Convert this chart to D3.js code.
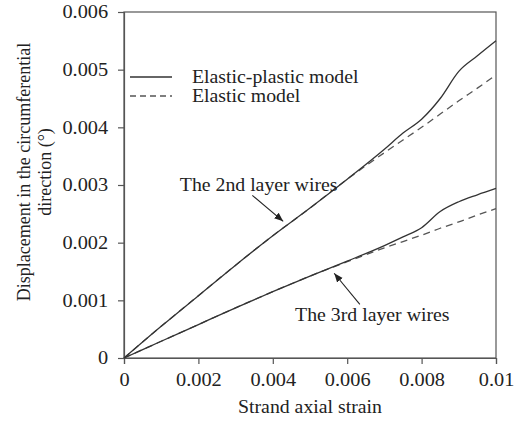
<!DOCTYPE html>
<html>
<head>
<meta charset="utf-8">
<script src="https://cdn.jsdelivr.net/npm/d3@7"></script>
<style>
  body { margin: 0; background: #fff; }
  svg { display: block; }
  text { font-family: "Liberation Serif", "Times New Roman", serif; fill: #222; }
</style>
</head>
<body>
<div class="canvas"></div>
<script>
// Data
const strainPts = [0, 0.001, 0.002, 0.003, 0.004, 0.005, 0.006, 0.007, 0.0075, 0.008, 0.0085, 0.009, 0.0095, 0.01];
const layer2Plastic = [0, 0.00055, 0.00108, 0.00161, 0.00212, 0.0026, 0.0031, 0.00362, 0.0039, 0.00414, 0.0045, 0.00497, 0.00524, 0.0055];
const layer2Elastic = [0, 0.00055, 0.00108, 0.00161, 0.00212, 0.0026, 0.0031, 0.00356, 0.00378, 0.004, 0.00423, 0.00446, 0.00468, 0.00491];
const layer3Plastic = [0, 0.00029, 0.00058, 0.00087, 0.00115, 0.00142, 0.00168, 0.00195, 0.0021, 0.00226, 0.00254, 0.00271, 0.00283, 0.00294];
const layer3Elastic = [0, 0.00029, 0.00058, 0.00087, 0.00115, 0.00142, 0.00167, 0.00191, 0.00202, 0.00213, 0.00225, 0.00236, 0.00248, 0.00259];

const xTicks = [0, 0.002, 0.004, 0.006, 0.008, 0.01];
const xTickLabels = ['0', '0.002', '0.004', '0.006', '0.008', '0.01'];
const yTicks = [0, 0.001, 0.002, 0.003, 0.004, 0.005, 0.006];
const yTickLabels = ['0', '0.001', '0.002', '0.003', '0.004', '0.005', '0.006'];

const legendLabels = ['Elastic-plastic model', 'Elastic model'];

// Dimensions
const dims = {
    svgWidth: 518,
    svgHeight: 421,
    marginLeft: 124,
    marginRight: 22,
    marginTop: 12,
    marginBottom: 63
};
dims.graphWidth = dims.svgWidth - dims.marginLeft - dims.marginRight;
dims.graphHeight = dims.svgHeight - dims.marginTop - dims.marginBottom;

const stretch = 'scale(1.1,1)';   // the source text is a bit wider than tall
const ink = '#333';

const svg = d3.select('.canvas')
    .append('svg')
    .attr('width', dims.svgWidth)
    .attr('height', dims.svgHeight);

const graph = svg.append('g')
    .attr('transform', `translate(${dims.marginLeft}, ${dims.marginTop})`);

// Scales
const x = d3.scaleLinear().domain([0, 0.01]).range([0, dims.graphWidth]);
const y = d3.scaleLinear().domain([0, 0.006]).range([dims.graphHeight, 0]);

// Frame
graph.append('rect')
    .attr('width', dims.graphWidth)
    .attr('height', dims.graphHeight)
    .attr('fill', 'none')
    .attr('stroke', '#555')
    .attr('stroke-width', 1.2);

// Axes
const xAxis = graph.append('g')
    .attr('transform', `translate(0, ${dims.graphHeight})`)
    .call(d3.axisBottom(x)
        .tickValues(xTicks)
        .tickFormat((d, i) => xTickLabels[i])
        .tickSize(6)
        .tickPadding(9));

const yAxis = graph.append('g')
    .call(d3.axisLeft(y)
        .tickValues(yTicks)
        .tickFormat((d, i) => yTickLabels[i])
        .tickSize(6)
        .tickPadding(8));

[xAxis, yAxis].forEach(ax => {
    ax.select('.domain').attr('stroke', '#555').attr('stroke-width', 1.2);
    ax.selectAll('.tick line').attr('stroke', '#555').attr('stroke-width', 1.2);
    ax.selectAll('.tick text')
        .attr('font-size', 18)
        .attr('fill', '#222')
        .attr('transform', 'scale(1.13,1)');
});

// Lines
const line = vals => d3.line()
    .x((d, i) => x(strainPts[i]))
    .y(d => y(d))
    .curve(d3.curveMonotoneX)(vals);

[layer2Elastic, layer3Elastic].forEach(vals => {
    graph.append('path')
        .attr('d', line(vals))
        .attr('fill', 'none')
        .attr('stroke', '#555')
        .attr('stroke-width', 1.3)
        .attr('stroke-dasharray', '7,5');
});

[layer2Plastic, layer3Plastic].forEach(vals => {
    graph.append('path')
        .attr('d', line(vals))
        .attr('fill', 'none')
        .attr('stroke', ink)
        .attr('stroke-width', 1.3);
});

// Legend
const legend = graph.append('g')
    .attr('transform', `translate(6, 65)`);

legendLabels.forEach((label, i) => {
    legend.append('line')
        .attr('x1', 0).attr('x2', 42)
        .attr('y1', i * 19).attr('y2', i * 19)
        .attr('stroke', i ? '#555' : ink)
        .attr('stroke-width', 1.3)
        .attr('stroke-dasharray', i ? '6,4' : null);
    legend.append('text')
        .attr('transform', `translate(62, ${i * 19 + 6}) ${stretch}`)
        .attr('font-size', 18)
        .text(label);
});

// Annotations
svg.append('defs').append('marker')
    .attr('id', 'arrow')
    .attr('viewBox', '0 0 10 10')
    .attr('refX', 10).attr('refY', 5)
    .attr('markerWidth', 9).attr('markerHeight', 9)
    .attr('markerUnits', 'userSpaceOnUse')
    .attr('orient', 'auto')
    .append('path')
    .attr('d', 'M0,1 L10,5 L0,9 Z')
    .attr('fill', '#222');

const notes = [
    { text: 'The 2nd layer wires', tx: 0.0015, ty: 0.0029, from: [0.00345, 0.00282], to: [0.00428, 0.00237] },
    { text: 'The 3rd layer wires', tx: 0.0046, ty: 0.00064, from: [0.00634, 0.00093], to: [0.00565, 0.00147] }
];

notes.forEach(n => {
    graph.append('line')
        .attr('x1', x(n.from[0])).attr('y1', y(n.from[1]))
        .attr('x2', x(n.to[0])).attr('y2', y(n.to[1]))
        .attr('stroke', '#222')
        .attr('stroke-width', 1.1)
        .attr('marker-end', 'url(#arrow)');
    graph.append('text')
        .attr('transform', `translate(${x(n.tx)}, ${y(n.ty)}) ${stretch}`)
        .attr('font-size', 18)
        .text(n.text);
});

// Axis titles
svg.append('text')
    .attr('transform', `translate(${dims.marginLeft + dims.graphWidth / 2}, 413) ${stretch}`)
    .attr('text-anchor', 'middle')
    .attr('font-size', 18)
    .text('Strand axial strain');

const yTitle = svg.append('text')
    .attr('transform', `translate(30, 172) rotate(-90)`)
    .attr('text-anchor', 'middle')
    .attr('font-size', 18);
yTitle.append('tspan').attr('x', 0).attr('dy', 0).text('Displacement in the circumferential');
yTitle.append('tspan').attr('x', 0).attr('dy', 21).text('direction (°)');
</script>
</body>
</html>
